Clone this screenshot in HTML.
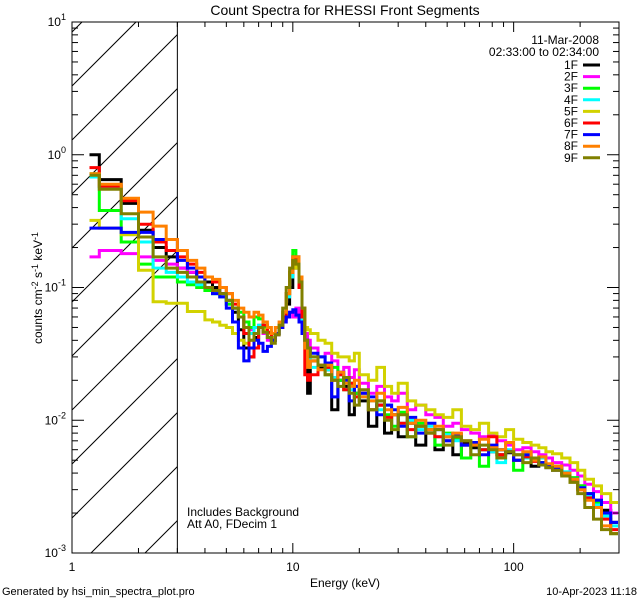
<!DOCTYPE html>
<html style="margin:0;padding:0;width:640px;height:600px;overflow:hidden"><head><meta charset="utf-8"><style>
html,body{margin:0;padding:0;background:#fff;width:640px;height:600px;overflow:hidden}
svg{display:block;position:absolute;left:0;top:0;font-family:"Liberation Sans",sans-serif}
</style></head><body>
<svg id="chart" width="640" height="600" viewBox="0 0 640 600" xmlns="http://www.w3.org/2000/svg">
<rect width="640" height="600" fill="#fff"/>
<text x="345" y="15" font-size="14" text-anchor="middle">Count Spectra for RHESSI Front Segments</text>
<g id="hatch"></g>
<g id="series"></g>
<g id="axes"></g>
<text x="599" y="44" font-size="12" text-anchor="end">11-Mar-2008</text>
<text x="599" y="56" font-size="12" text-anchor="end">02:33:00 to 02:34:00</text>
<g id="legend"></g>
<text x="187" y="516" font-size="12">Includes Background</text>
<text x="187" y="528" font-size="12">Att A0, FDecim 1</text>
<text x="345" y="587" font-size="12" text-anchor="middle">Energy (keV)</text>
<text transform="translate(42,288) rotate(-90)" font-size="12" text-anchor="middle">counts cm<tspan dy="-4" font-size="9">-2</tspan><tspan dy="4"> s</tspan><tspan dy="-4" font-size="9">-1</tspan><tspan dy="4"> keV</tspan><tspan dy="-4" font-size="9">-1</tspan></text>
<text x="2" y="595" font-size="11">Generated by hsi_min_spectra_plot.pro</text>
<text x="637" y="595" font-size="11" text-anchor="end">10-Apr-2023 11:18</text>
</svg>
<script>
const edges = [1.2,1.33,1.67,2,2.33,2.67,3,3.33,3.67,4,4.33,4.67,5,5.33,5.67,6,6.33,6.67,7,7.33,7.67,8,8.33,8.67,9,9.33,9.67,10,10.33,10.67,11,11.33,11.67,12,13,14,15,16,17,18,19,20,22,24,26,28,30,33,36,40,44,48,53,58,64,70,77,84,92,100,110,120,130,140,150,165,180,195,210,230,250,275,300];
const seriesNames = ["1F","2F","3F","4F","5F","6F","7F","8F","9F"];
const s1F = [1.0,0.65,0.43,0.27,0.2,0.17, 0.14,0.13,0.12,0.11,0.1,0.09,0.08,0.065,0.048,0.035,0.03,0.042,0.05,0.048,0.042,0.04,0.045,0.05,0.058,0.075,0.1,0.14,0.17,0.12,0.07,0.04,0.016, 0.028,0.025,0.024,0.012,0.02,0.018,0.011,0.016,0.014,0.009,0.013,0.008,0.011,0.0075,0.0095,0.0065,0.0085,0.006,0.0075,0.0055,0.0068,0.0062,0.006,0.0058,0.0055,0.0057,0.005,0.0052,0.0045,0.0048,0.0044,0.0042,0.004,0.0035,0.0032,0.0028,0.0025,0.0021,0.0017];
const s2F = [0.17,0.19,0.18,0.17,0.16,0.15, 0.14,0.13,0.12,0.1,0.095,0.085,0.075,0.07,0.06,0.05,0.048,0.05,0.052,0.045,0.04,0.042,0.045,0.05,0.055,0.06,0.065,0.06,0.07,0.06,0.05,0.045,0.04, 0.035,0.03,0.032,0.028,0.022,0.025,0.021,0.024,0.019,0.016,0.018,0.015,0.014,0.016,0.012,0.013,0.011,0.0105,0.009,0.0095,0.0085,0.008,0.0075,0.0078,0.007,0.0065,0.006,0.0062,0.0058,0.0055,0.0052,0.0048,0.0046,0.0042,0.0038,0.0033,0.0029,0.0024,0.002];
const s3F = [0.72,0.38,0.22,0.15,0.12,0.12, 0.11,0.105,0.1,0.095,0.09,0.085,0.075,0.07,0.065,0.055,0.05,0.06,0.058,0.05,0.045,0.04,0.045,0.052,0.065,0.09,0.13,0.19,0.16,0.1,0.06,0.04,0.035, 0.03,0.026,0.022,0.025,0.02,0.017,0.019,0.016,0.015,0.012,0.014,0.011,0.009,0.0115,0.0075,0.0095,0.0085,0.0065,0.008,0.0072,0.0052,0.0068,0.0045,0.0062,0.006,0.0058,0.0042,0.0055,0.005,0.0048,0.0046,0.0045,0.004,0.0037,0.0032,0.0028,0.0024,0.0019,0.0014];
const s4F = [0.68,0.57,0.33,0.22,0.14,0.13, 0.12,0.11,0.105,0.1,0.09,0.085,0.08,0.07,0.06,0.05,0.045,0.05,0.052,0.047,0.042,0.04,0.044,0.05,0.06,0.085,0.12,0.16,0.15,0.1,0.055,0.035,0.03, 0.025,0.03,0.024,0.021,0.022,0.019,0.017,0.018,0.015,0.014,0.012,0.013,0.011,0.0095,0.01,0.0085,0.009,0.0075,0.0078,0.007,0.0065,0.0068,0.006,0.0058,0.0048,0.006,0.0055,0.0052,0.005,0.0052,0.0046,0.0044,0.0041,0.0036,0.0031,0.0027,0.0023,0.0019,0.0016];
const s5F = [0.32,0.28,0.25,0.135,0.078,0.076, 0.076,0.066,0.066,0.057,0.055,0.052,0.05,0.045,0.04,0.038,0.04,0.045,0.05,0.048,0.045,0.042,0.045,0.05,0.06,0.09,0.13,0.16,0.14,0.1,0.06,0.05,0.048, 0.045,0.04,0.038,0.032,0.03,0.03,0.028,0.032,0.022,0.02,0.025,0.018,0.016,0.019,0.014,0.013,0.012,0.011,0.0105,0.012,0.009,0.0085,0.0095,0.008,0.0075,0.0085,0.0072,0.0068,0.0065,0.0062,0.0058,0.0056,0.0052,0.0048,0.0042,0.0036,0.0032,0.0028,0.0024];
const s6F = [0.8,0.58,0.45,0.3,0.22,0.19, 0.17,0.15,0.13,0.12,0.11,0.1,0.09,0.075,0.06,0.045,0.03,0.035,0.05,0.052,0.046,0.04,0.044,0.05,0.06,0.09,0.13,0.17,0.16,0.1,0.06,0.022,0.02, 0.022,0.026,0.025,0.02,0.022,0.017,0.019,0.015,0.016,0.012,0.013,0.0105,0.011,0.0095,0.0085,0.009,0.008,0.0075,0.007,0.0078,0.0065,0.0068,0.006,0.0075,0.0055,0.0058,0.005,0.0053,0.0049,0.0047,0.0045,0.0043,0.0039,0.0035,0.003,0.0026,0.0022,0.0018,0.0015];
const s7F = [0.28,0.28,0.26,0.26,0.23,0.23, 0.16,0.14,0.12,0.1,0.09,0.085,0.07,0.055,0.035,0.028,0.035,0.04,0.038,0.033,0.036,0.04,0.045,0.05,0.055,0.06,0.065,0.068,0.062,0.055,0.045,0.04,0.035, 0.032,0.03,0.027,0.015,0.023,0.02,0.014,0.018,0.016,0.015,0.011,0.013,0.012,0.009,0.0105,0.008,0.0095,0.0085,0.007,0.0078,0.0065,0.0068,0.0055,0.0065,0.006,0.0058,0.005,0.0055,0.0052,0.0048,0.0046,0.0044,0.004,0.0036,0.0031,0.0028,0.0025,0.002,0.0017];
const s8F = [0.72,0.6,0.47,0.37,0.29,0.23, 0.19,0.16,0.14,0.12,0.115,0.1,0.09,0.08,0.07,0.065,0.06,0.065,0.062,0.055,0.05,0.045,0.05,0.055,0.065,0.09,0.13,0.17,0.17,0.12,0.07,0.035,0.025, 0.028,0.024,0.026,0.02,0.023,0.019,0.018,0.02,0.015,0.014,0.016,0.012,0.011,0.0125,0.0095,0.01,0.0085,0.009,0.0075,0.008,0.007,0.0065,0.0072,0.0062,0.006,0.0068,0.0055,0.0058,0.005,0.0053,0.0047,0.0045,0.004,0.0036,0.003,0.0025,0.0022,0.0016,0.0014];
const s9F = [0.7,0.55,0.36,0.24,0.17,0.14, 0.13,0.12,0.11,0.1,0.095,0.09,0.08,0.07,0.06,0.05,0.04,0.045,0.05,0.046,0.042,0.038,0.044,0.052,0.07,0.1,0.14,0.16,0.15,0.11,0.07,0.04,0.035, 0.03,0.026,0.022,0.02,0.018,0.021,0.016,0.013,0.017,0.012,0.014,0.01,0.0085,0.011,0.0075,0.009,0.008,0.0085,0.0065,0.0075,0.007,0.0055,0.0065,0.006,0.0052,0.0058,0.0055,0.0048,0.0052,0.0046,0.0044,0.0042,0.0038,0.0034,0.0028,0.0022,0.0018,0.0015,0.0014];
const seriesColors = ["#000000","#ff00ff","#00ff00","#00ffff","#d2d200","#ff0000","#0000ff","#ff8000","#808000"];
const xTickLabels = ["1","10","100"];
const yTickExps = ["1","0","-1","-2","-3"];

const NS = "http://www.w3.org/2000/svg";
const L = 72, R = 619, T = 22, B = 553;
const XMIN = 1, XMAX = 300, YMIN = 1e-3, YMAX = 10;
function xs(e){ return L + (Math.log10(e) - Math.log10(XMIN)) / (Math.log10(XMAX) - Math.log10(XMIN)) * (R - L); }
function ys(v){ return B - (Math.log10(v) - Math.log10(YMIN)) / (Math.log10(YMAX) - Math.log10(YMIN)) * (B - T); }
function mk(tag, attrs, parent){ const el = document.createElementNS(NS, tag); for (const k in attrs) el.setAttribute(k, attrs[k]); parent.appendChild(el); return el; }

const hatch = document.getElementById('hatch');
const xh = xs(3);
// 45-degree lines: y = c - (x - L); clip manually to [L,xh] x [T,B]
for (let c = 32 - 54*3; c < B + (xh - L); c += 54) {
  let x1 = Math.max(L, L + c - B), x2 = Math.min(xh, L + c - T);
  if (x2 <= x1) continue;
  const ln = mk('line', {x1:x1, y1:c-(x1-L), x2:x2, y2:c-(x2-L), stroke:'#000', 'stroke-width':1}, hatch);
  
  
}
const vl = mk('line', {x1:xh, y1:T, x2:xh, y2:B, stroke:'#000', 'stroke-width':1}, hatch);



const seriesData = [s1F,s2F,s3F,s4F,s5F,s6F,s7F,s8F,s9F];
const sg = document.getElementById('series');
seriesData.forEach((vals, si) => {
  let d = '';
  const n = Math.min(vals.length, edges.length - 1);
  for (let i = 0; i < n; i++) {
    const x0 = xs(edges[i]).toFixed(1), x1 = Math.min(xs(edges[i+1]), R - 1).toFixed(1);
    const y = Math.min(Math.max(ys(vals[i]), T), B).toFixed(1);
    d += (i === 0 ? 'M' : 'L') + x0 + ',' + y + 'L' + x1 + ',' + y;
  }
  const p = mk('path', {d:d, fill:'none', stroke:seriesColors[si], 'stroke-width':3}, sg);
  
  
});

const ax = document.getElementById('axes');
const fr = mk('rect', {x:L, y:T, width:R-L, height:B-T, fill:'none', stroke:'#000', 'stroke-width':1}, ax);


for (let dec = 0; dec <= 2; dec++) {
  for (let m = 1; m <= 9; m++) {
    const e = m * Math.pow(10, dec);
    if (e > XMAX) break;
    const x = xs(e), len = m === 1 ? 10 : 5;
    mk('line', {x1:x, y1:B, x2:x, y2:B-len, stroke:'#000'}, ax);
    mk('line', {x1:x, y1:T, x2:x, y2:T+len, stroke:'#000'}, ax);
  }
}
xTickLabels.forEach(lb => {
  const t = mk('text', {x:xs(parseFloat(lb)), y:571, 'font-size':12, 'text-anchor':'middle'}, ax);
  t.textContent = lb;
  
  
});
for (let dec = -3; dec <= 0; dec++) {
  for (let m = 1; m <= 9; m++) {
    const v = m * Math.pow(10, dec), y = ys(v), len = m === 1 ? 12 : 6;
    mk('line', {x1:L, y1:y, x2:L+len, y2:y, stroke:'#000'}, ax);
    mk('line', {x1:R, y1:y, x2:R-len, y2:y, stroke:'#000'}, ax);
  }
}
yTickExps.forEach(ex => {
  const y = ys(Math.pow(10, parseFloat(ex)));
  const t = mk('text', {x:66, y:y+4, 'font-size':12, 'text-anchor':'end'}, ax);
  
  
  const a = mk('tspan', {}, t); a.textContent = '10';
  const b = mk('tspan', {dy:-6, 'font-size':9}, t); b.textContent = ex;
});

const lg = document.getElementById('legend');
seriesNames.forEach((nm, i) => {
  const y = 65 + i * 11.6;
  const g = mk('g', {}, lg);
  
  
  const t = mk('text', {x:578, y:y+4, 'font-size':12, 'text-anchor':'end'}, g);
  t.textContent = nm;
  mk('line', {x1:583, y1:y, x2:600, y2:y, stroke:seriesColors[i], 'stroke-width':3}, g);
});
</script>
</body></html>
